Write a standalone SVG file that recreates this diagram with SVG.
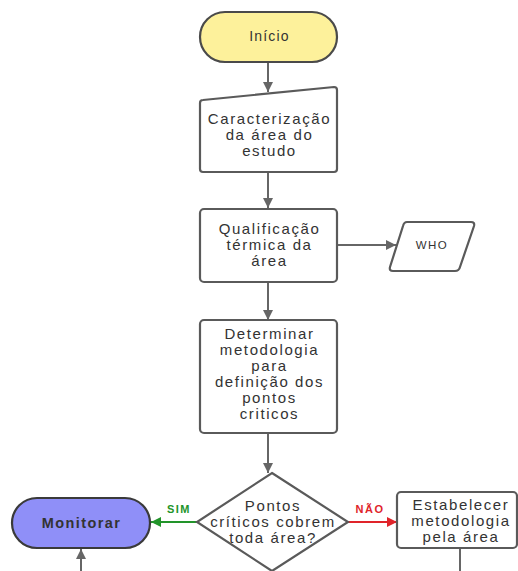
<svg xmlns="http://www.w3.org/2000/svg" width="518" height="571" viewBox="0 0 518 571">
<defs>
<style>
.n{fill:#fff;stroke:#5a5a5a;stroke-width:2.2}
.t{font-family:"Liberation Sans",Arial,sans-serif;font-size:15px;letter-spacing:1.6px;fill:#333;text-anchor:middle}
.b{font-weight:bold}
.c{fill:none;stroke:#666;stroke-width:2}
.lbl{font-family:"Liberation Sans",Arial,sans-serif;font-size:11px;letter-spacing:1.5px;font-weight:bold;text-anchor:middle}
</style>
<marker id="ag" viewBox="0 0 10 10" refX="10" refY="5" markerWidth="10" markerHeight="10" markerUnits="userSpaceOnUse" orient="auto"><path d="M0,0 L10,5 L0,10 z" fill="#666"/></marker>
<marker id="agr" viewBox="0 0 10 10" refX="10" refY="5" markerWidth="10" markerHeight="10" markerUnits="userSpaceOnUse" orient="auto"><path d="M0,0 L10,5 L0,10 z" fill="#22942a"/></marker>
<marker id="ar" viewBox="0 0 10 10" refX="10" refY="5" markerWidth="10" markerHeight="10" markerUnits="userSpaceOnUse" orient="auto"><path d="M0,0 L10,5 L0,10 z" fill="#e0242a"/></marker>
</defs>
<rect width="518" height="571" fill="#fff"/>
<g id="connectors">
<line class="c" x1="268" y1="62" x2="268" y2="92" marker-end="url(#ag)"/>
<line class="c" x1="268" y1="172" x2="268" y2="208" marker-end="url(#ag)"/>
<line class="c" x1="337" y1="245" x2="396" y2="245" marker-end="url(#ag)"/>
<line class="c" x1="268" y1="282" x2="268" y2="320" marker-end="url(#ag)"/>
<line class="c" x1="268" y1="433" x2="268" y2="473" marker-end="url(#ag)"/>
<line x1="197" y1="522" x2="151" y2="522" stroke="#22942a" stroke-width="2" marker-end="url(#agr)"/>
<text class="lbl" x="179" y="513" fill="#22942a">SIM</text>
<line x1="348" y1="522" x2="397" y2="522" stroke="#e0242a" stroke-width="2" marker-end="url(#ar)"/>
<text class="lbl" x="370" y="513" fill="#e0242a">NÃO</text>
<line class="c" x1="81" y1="571" x2="81" y2="549" marker-end="url(#ag)"/>
<line class="c" x1="460" y1="549" x2="460" y2="571"/>
</g>
<g id="inicio">
<rect x="200" y="12" width="137" height="50" rx="25" fill="#fdf19b" stroke="#4a4a4a" stroke-width="2.2"/>
<text class="t" x="269.5" y="41" style="font-size:14px;letter-spacing:1.2px">Início</text>
</g>
<g id="caracterizacao">
<path class="n" d="M203,100 L334,87 Q337,87 337,90 L337,169 Q337,172 334,172 L203,172 Q200,172 200,169 L200,103 Q200,100 203,100 z"/>
<text class="t" x="269.5" y="124">Caracterização</text>
<text class="t" x="269.5" y="140">da área do</text>
<text class="t" x="269.5" y="156">estudo</text>
</g>
<g id="qualificacao">
<rect class="n" x="200" y="209" width="137" height="73" rx="4"/>
<text class="t" x="269.5" y="234">Qualificação</text>
<text class="t" x="269.5" y="250">térmica da</text>
<text class="t" x="269.5" y="266">área</text>
</g>
<g id="who">
<path class="n" d="M407,222 L471,222 Q475,222 474,226 L460,267 Q459,271 455,271 L393,271 Q389,271 390,267 L403,226 Q404,222 407,222 z"/>
<text class="t" x="432" y="249" style="font-size:11.5px;letter-spacing:1.5px">WHO</text>
</g>
<g id="determinar">
<rect class="n" x="200" y="320" width="137" height="113" rx="4"/>
<text class="t" x="269.5" y="339">Determinar</text>
<text class="t" x="269.5" y="355">metodologia</text>
<text class="t" x="269.5" y="371">para</text>
<text class="t" x="269.5" y="387">definição dos</text>
<text class="t" x="269.5" y="403">pontos</text>
<text class="t" x="269.5" y="419">criticos</text>
</g>
<g id="decisao">
<path class="n" d="M272,473 L348,522 L272,571 L197,522 z"/>
<text class="t" x="273" y="511">Pontos</text>
<text class="t" x="273" y="527">críticos cobrem</text>
<text class="t" x="273" y="543">toda área?</text>
</g>
<g id="monitorar">
<rect x="12" y="498" width="138" height="50" rx="25" fill="#8f8ff8" stroke="#3a3a3a" stroke-width="2.2"/>
<text class="t b" x="81.5" y="528" fill="#2a2a3a" style="font-size:14.5px;letter-spacing:1.4px">Monitorar</text>
</g>
<g id="estabelecer">
<rect class="n" x="397" y="492" width="120" height="56" rx="4"/>
<text class="t" x="461" y="510">Estabelecer</text>
<text class="t" x="461" y="526">metodologia</text>
<text class="t" x="461" y="542">pela área</text>
</g>
</svg>
